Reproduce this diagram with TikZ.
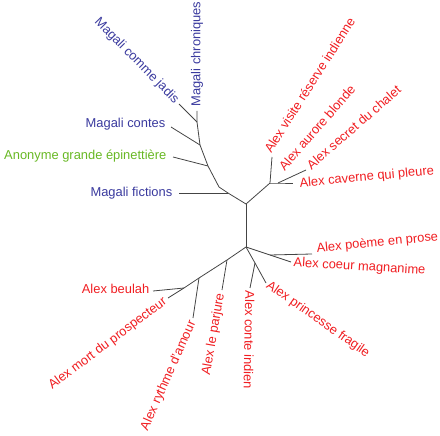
\documentclass[tikz,border=0pt]{standalone}
\usepackage{fontspec}
\setmainfont{Liberation Sans}
\definecolor{magali}{RGB}{58,58,158}
\definecolor{alex}{RGB}{240,30,34}
\definecolor{anonyme}{RGB}{104,184,36}
\definecolor{trait}{RGB}{68,68,68}

\begin{document}
\begin{tikzpicture}[x=1pt,y=-1pt,
    branche/.style={draw=trait,line width=0.8pt},
    titre/.style={font=\fontsize{12.9}{14}\selectfont,inner sep=0.5pt}]
    \useasboundingbox (0,0) rectangle (440,436);

    % Noeuds internes
    \coordinate (c1) at (246,204);
    \coordinate (c2) at (246,247);
    \foreach \nom/\x/\y in {f/228/193, b/219/187, a/208/166, k/200/145, j/197/122,
                            r/270/183, s/278/183, p/270/255, q/255/263,
                            l1/227/260, l2/199/278, l3/184/288}
        \coordinate (\nom) at (\x,\y);

    % Feuilles
    \foreach \nom/\x/\y in {chron/197/111, jadis/179/104, contes/171/127, anon/173/157, fict/179/193,
                            visite/272/157, secret/306/170, caverne/293/183,
                            poeme/312/254, coeur/291/262, princ/266/283, conte/250/288,
                            parj/222/290, rythme/193/318, beulah/153/291, prosp/168/298}
        \coordinate (\nom) at (\x,\y);

    % Branches
    \draw[branche] (c1) -- (c2);
    \draw[branche] (c1) -- (f) -- (b) -- (a) -- (k) -- (j) -- (chron);
    \draw[branche] (j) -- (jadis);
    \draw[branche] (k) -- (contes);
    \draw[branche] (a) -- (anon);
    \draw[branche] (f) -- (fict);
    \draw[branche] (c1) -- (r) -- (visite);
    \draw[branche] (r) -- (s) -- (caverne);
    \draw[branche] (s) -- (secret);
    \draw[branche] (c2) -- (p) -- (coeur);
    \draw[branche] (p) -- (poeme);
    \draw[branche] (c2) -- (q) -- (conte);
    \draw[branche] (q) -- (princ);
    \draw[branche] (c2) -- (l1) -- (l2) -- (l3) -- (beulah);
    \draw[branche] (l1) -- (parj);
    \draw[branche] (l2) -- (rythme);
    \draw[branche] (l3) -- (prosp);

    % Titres Magali
    \node[titre,magali,rotate=90,anchor=west] (tchron) at (197,107) {Magali chroniques};
    \node[titre,magali,rotate=-45.5,anchor=east] (tjadis) at (177,102) {Magali comme jadis};
    \node[titre,magali,anchor=east] (tcontes) at (166,124) {Magali contes};
    \node[titre,anonyme,anchor=east] (tanon) at (167,156) {Anonyme grande épinettière};
    \node[titre,magali,anchor=east] (tfict) at (173,193) {Magali fictions};

    % Titres Alex
    \node[titre,alex,rotate=57.5,anchor=west] (tvisite) at (267,152) {Alex visite réserve indienne};
    \node[titre,alex,rotate=49,anchor=west] (taurore) at (281,169) {Alex aurore blonde};
    \node[titre,alex,rotate=41,anchor=west] (tsecret) at (308,167) {Alex secret du chalet};
    \node[titre,alex,rotate=5.5,anchor=west] (tcaverne) at (299,184) {Alex caverne qui pleure};
    \node[titre,alex,rotate=5.5,anchor=west] (tpoeme) at (316,249) {Alex poème en prose};
    \node[titre,alex,rotate=-3.5,anchor=west] (tcoeur) at (293,263) {Alex coeur magnanime};
    \node[titre,alex,rotate=-35,anchor=west] (tprinc) at (267,284) {Alex princesse fragile};
    \node[titre,alex,rotate=-91,anchor=west] (tconte) at (250,290) {Alex conte indien};
    \node[titre,alex,rotate=80,anchor=east] (tparj) at (221,293) {Alex le parjure};
    \node[titre,alex,rotate=66,anchor=east] (trythme) at (193,321) {Alex rythme d'amour};
    \node[titre,alex,rotate=37,anchor=east] (tprosp) at (166,300) {Alex mort du prospecteur};
    \node[titre,alex,anchor=east] (tbeulah) at (150,289) {Alex beulah};
\end{tikzpicture}
\end{document}
